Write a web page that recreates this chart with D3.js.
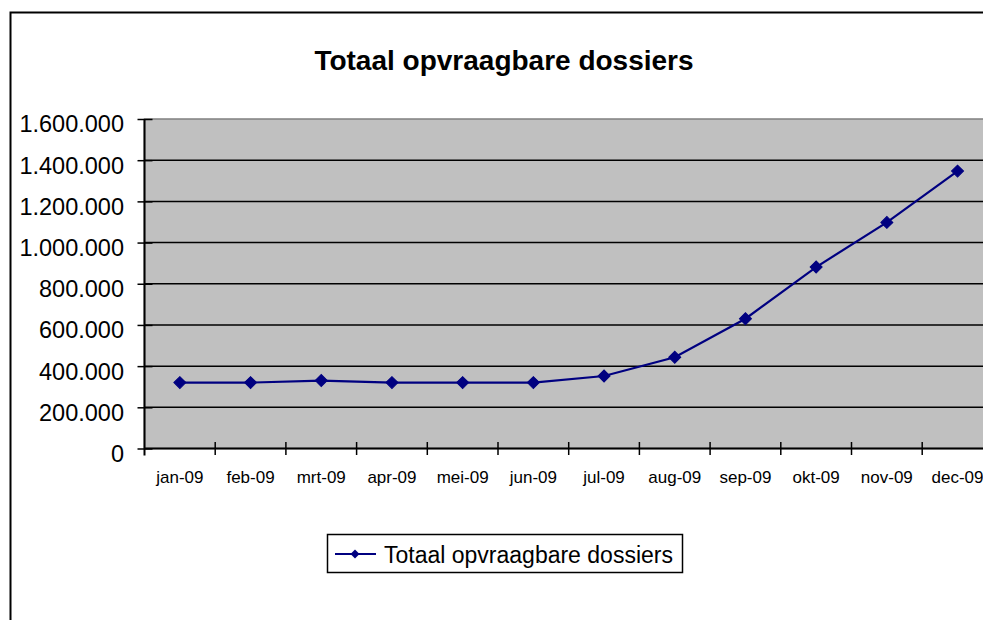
<!DOCTYPE html>
<html>
<head>
<meta charset="utf-8">
<script src="https://cdn.jsdelivr.net/npm/d3@7"></script>
<style>
  html, body { margin: 0; padding: 0; background: #fff; }
  svg { display: block; font-family: Arial, "Liberation Sans", sans-serif; }
</style>
</head>
<body>
<svg id="chart" width="983" height="620"></svg>
<script>
const title = "Totaal opvraagbare dossiers";
const seriesName = "Totaal opvraagbare dossiers";
const months = ["jan-09","feb-09","mrt-09","apr-09","mei-09","jun-09","jul-09","aug-09","sep-09","okt-09","nov-09","dec-09"];
const values = [320000, 320000, 330000, 320000, 320000, 320000, 352000, 443000, 630000, 881000, 1098000, 1347000];
const yTicks = [0, 200000, 400000, 600000, 800000, 1000000, 1200000, 1400000, 1600000];

const svg = d3.select("#chart");

const plot = { left: 144.5, top: 119, right: 144.5 + 12 * 70.7, bottom: 448.5 };

const locale = d3.formatLocale({ decimal: ",", thousands: ".", grouping: [3], currency: ["€", ""] });
const fmt = locale.format(",d");

const x = d3.scaleBand().domain(months).range([plot.left, plot.right]).paddingInner(0).paddingOuter(0);
const y = d3.scaleLinear().domain([0, 1600000]).range([plot.bottom, plot.top]);

// Outer chart border
svg.append("rect").attr("x", 10.5).attr("y", 12.5).attr("width", 1100).attr("height", 800)
  .attr("fill", "#fff").attr("stroke", "#000").attr("stroke-width", 2);

// Title
svg.append("text").attr("x", 504).attr("y", 70).attr("text-anchor", "middle")
  .attr("font-size", 28).attr("font-weight", "bold").attr("fill", "#000").text(title);

// Plot area
svg.append("rect").attr("x", plot.left).attr("y", plot.top)
  .attr("width", plot.right - plot.left).attr("height", plot.bottom - plot.top)
  .attr("fill", "#c0c0c0").attr("stroke", "#808080").attr("stroke-width", 1.5);

// Gridlines
svg.append("g").selectAll("line").data(yTicks.filter(d => d > 0 && d < 1600000)).join("line")
  .attr("x1", plot.left).attr("x2", plot.right)
  .attr("y1", d => y(d)).attr("y2", d => y(d))
  .attr("stroke", "#000").attr("stroke-width", 1.5);

// Y axis
const yAxis = d3.axisLeft(y).tickValues(yTicks).tickFormat(fmt).tickSize(7).tickPadding(13);
const gy = svg.append("g").attr("transform", `translate(${plot.left},0)`).call(yAxis);
gy.select(".domain").remove();
gy.append("line").attr("x1", 0).attr("x2", 0).attr("y1", plot.top).attr("y2", plot.bottom + 7)
  .attr("stroke", "#000").attr("stroke-width", 2);
gy.selectAll(".tick line").attr("x1", -7).attr("x2", 8).attr("stroke", "#000").attr("stroke-width", 1.5);
gy.selectAll(".tick text").attr("font-size", 23.5).attr("font-family", "Arial, 'Liberation Sans', sans-serif")
  .attr("fill", "#000").attr("dy", "0.55em").attr("x", -20.5);

// X axis
const xBoundaries = months.map(m => x(m)).concat([plot.right]);
const gx = svg.append("g");
gx.append("line").attr("x1", plot.left).attr("x2", plot.right).attr("y1", plot.bottom).attr("y2", plot.bottom)
  .attr("stroke", "#000").attr("stroke-width", 2);
gx.selectAll("line.tk").data(xBoundaries.slice(1)).join("line").attr("class", "tk")
  .attr("x1", d => d).attr("x2", d => d).attr("y1", plot.bottom - 6.5).attr("y2", plot.bottom + 6.5)
  .attr("stroke", "#000").attr("stroke-width", 1.5);
gx.selectAll("text").data(months).join("text")
  .attr("x", d => x(d) + x.bandwidth() / 2).attr("y", 483)
  .attr("text-anchor", "middle").attr("font-size", 17).attr("fill", "#000").text(d => d);

// Line
const data = months.map((m, i) => ({ m, v: values[i] }));
const line = d3.line().x(d => x(d.m) + x.bandwidth() / 2).y(d => y(d.v));
svg.append("path").datum(data).attr("d", line).attr("fill", "none")
  .attr("stroke", "#000080").attr("stroke-width", 2.2);

const diamond = d3.symbol().type(d3.symbolSquare).size(72);
svg.append("g").selectAll("path").data(data).join("path")
  .attr("d", diamond())
  .attr("transform", d => `translate(${x(d.m) + x.bandwidth() / 2},${y(d.v)}) rotate(45)`)
  .attr("fill", "#000080").attr("stroke", "#000080").attr("stroke-width", 1);

// Legend
const lg = svg.append("g");
lg.append("rect").attr("x", 327.5).attr("y", 534.5).attr("width", 355).attr("height", 38)
  .attr("fill", "#fff").attr("stroke", "#000").attr("stroke-width", 1.5);
lg.append("line").attr("x1", 335).attr("x2", 376).attr("y1", 554).attr("y2", 554)
  .attr("stroke", "#000080").attr("stroke-width", 2);
lg.append("path").attr("d", d3.symbol().type(d3.symbolSquare).size(40)())
  .attr("transform", "translate(355,554) rotate(45)").attr("fill", "#000080");
lg.append("text").attr("x", 384).attr("y", 563).attr("font-size", 23).attr("fill", "#000").text(seriesName);
</script>
</body>
</html>
